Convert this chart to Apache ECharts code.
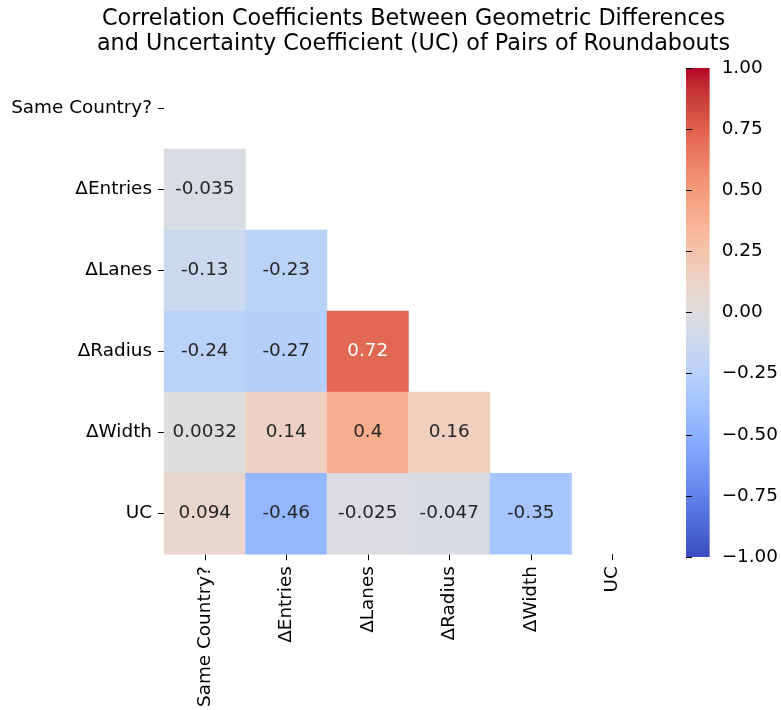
<!DOCTYPE html>
<html><head><meta charset="utf-8">
<script src="https://cdn.jsdelivr.net/npm/echarts@6/dist/echarts.min.js"></script>
<style>html,body{margin:0;padding:0;background:#fff}#c{width:781px;height:710px}</style>
</head><body><div id="c"></div>
<script>
const labels = ['Same Country?', '\u0394Entries', '\u0394Lanes', '\u0394Radius', '\u0394Width', 'UC'];
const rowEntries = [-0.035];
const rowLanes = [-0.13, -0.23];
const rowRadius = [-0.24, -0.27, 0.72];
const rowWidth = [0.0032, 0.14, 0.4, 0.16];
const rowUC = [0.094, -0.46, -0.025, -0.047, -0.35];
const rows = [[], rowEntries, rowLanes, rowRadius, rowWidth, rowUC];
const colorbarTicks = [-1, -0.75, -0.5, -0.25, 0, 0.25, 0.5, 0.75, 1];
const coolwarm = ['#3b4cc0','#445acc','#4d68d7','#5775e1','#6282ea','#6c8ef1','#779af7','#82a5fb','#8db0fe','#98b9ff','#a3c2ff','#aec9fd','#b8d0f9','#c2d5f4','#ccd9ee','#d5dbe6','#dddddd','#e5d8d1','#ecd3c5','#f1ccb8','#f5c4ac','#f7bb9f','#f7b193','#f7a686','#f49a7b','#f18d6f','#ec7f63','#e57059','#de604d','#d55042','#cb3e38','#c0282f','#b40426'];

const data = [];
rows.forEach((r, i) => r.forEach((v, j) => data.push({value: [j, i, v], label: {color: Math.abs(v) > 0.6 ? '#fff' : '#262626'}})));

function fmt(v){ return String(parseFloat(v.toPrecision(2))); }

const font = 'DejaVu Sans';
const gradient = new echarts.graphic.LinearGradient(0, 1, 0, 0,
  coolwarm.map((c, i) => ({offset: i / (coolwarm.length - 1), color: c})));

const chart = echarts.init(document.getElementById('c'), null, {renderer: 'canvas'});
chart.setOption({
  backgroundColor: '#fff',
  animation: false,
  title: {
    text: 'Correlation Coefficients Between Geometric Differences\nand Uncertainty Coefficient (UC) of Pairs of Roundabouts',
    left: 408.5, top: 2, textAlign: 'center',
    textStyle: {fontFamily: font, fontSize: 22.3, fontWeight: 'normal', color: '#000', lineHeight: 25}
  },
  grid: [
    {left: 164, top: 68, width: 489, height: 489},
    {left: 686, top: 68, width: 24.5, height: 489, show: true, backgroundColor: gradient, borderWidth: 0}
  ],
  xAxis: [
    {type: 'category', data: labels, gridIndex: 0,
     axisLine: {show: false}, splitLine: {show: false},
     axisTick: {show: true, length: 6, alignWithLabel: true, interval: 0, lineStyle: {color: '#000', width: 1}},
     axisLabel: {rotate: 90, margin: 12, interval: 0, fontFamily: font, fontSize: 18.4, color: '#000'}},
    {type: 'value', gridIndex: 1, show: false, min: 0, max: 1}
  ],
  yAxis: [
    {type: 'category', data: labels, inverse: true, gridIndex: 0,
     axisLine: {show: false}, splitLine: {show: false},
     axisTick: {show: true, length: 6, alignWithLabel: true, interval: 0, lineStyle: {color: '#000', width: 1}},
     axisLabel: {margin: 12, interval: 0, fontFamily: font, fontSize: 18.4, color: '#000'}},
    {type: 'value', gridIndex: 1, position: 'right', min: colorbarTicks[0], max: colorbarTicks[colorbarTicks.length - 1], interval: 0.25,
     axisLine: {show: false}, splitLine: {show: false},
     axisTick: {show: true, length: 6, lineStyle: {color: '#000', width: 1}},
     axisLabel: {margin: 12, fontFamily: font, fontSize: 18.4, color: '#000',
       formatter: v => v.toFixed(2).replace('-', '\u2212')}}
  ],
  visualMap: {
    type: 'continuous', min: -1, max: 1, seriesIndex: 0, show: false,
    inRange: {color: coolwarm}
  },
  series: [
    {type: 'heatmap', xAxisIndex: 0, yAxisIndex: 0, data: data,
     itemStyle: {borderWidth: 0},
     label: {show: true, fontFamily: font, fontSize: 18.4,
       formatter: p => fmt(p.value[2]), color: '#262626'},
     emphasis: {disabled: true}},
    {type: 'line', xAxisIndex: 1, yAxisIndex: 1, data: [], silent: true}
  ]
});
</script></body></html>
